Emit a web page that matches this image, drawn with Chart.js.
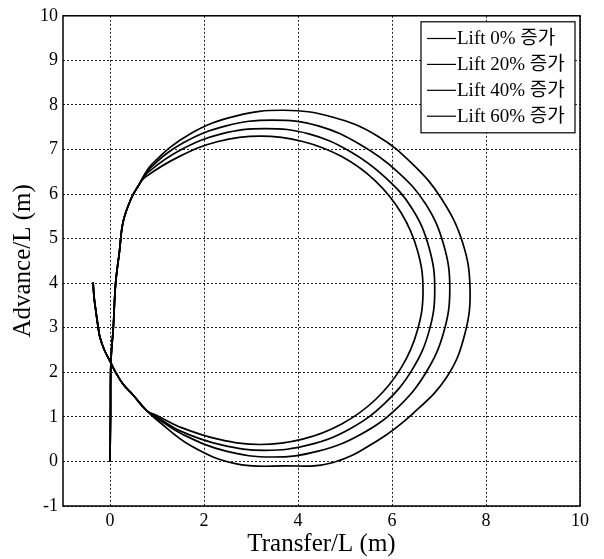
<!DOCTYPE html>
<html><head><meta charset="utf-8">
<script src="https://cdn.jsdelivr.net/npm/chart.js@4.4.1/dist/chart.umd.min.js"></script>
<style>html,body{margin:0;padding:0;background:#fff;}#wrap{width:604px;height:559px;position:relative;}</style>
</head><body><div id="wrap"><canvas id="c" width="604" height="559"></canvas></div>
<script>
const seriesLabels = ['Lift 0% 증가','Lift 20% 증가','Lift 40% 증가','Lift 60% 증가'];
const xTicks = [0,2,4,6,8,10];
const yTicks = [-1,0,1,2,3,4,5,6,7,8,9,10];

// common approach segment (before turning)
const leadX = [0,0.01,0.02,0.07,0.12,0.2,0.28,0.45,0.6];
const leadY = [0,1.0,2.25,3.0,4.0,4.7,5.38,5.9,6.18];
// common end segment
const tailX = [0.78,0.5,0.28,0.12,0.0,-0.12,-0.21,-0.25,-0.3,-0.34,-0.36];
const tailY = [1.14,1.48,1.73,2.0,2.25,2.5,2.77,3.0,3.37,3.7,4.02];

const lift0X = [0.9,1.72,2.67,3.7,4.73,5.68,6.45,7.05,7.5,7.66,7.55,7.17,6.45,5.68,4.73,3.7,2.67,1.72,1.0];
const lift0Y = [6.68,7.36,7.75,7.88,7.73,7.31,6.66,5.9,4.92,3.89,2.86,1.9,1.08,0.46,-0.03,-0.1,-0.05,0.35,0.93];

const lift20X = [0.85,1.56,2.47,3.45,4.43,5.34,6.12,6.72,7.1,7.23,7.1,6.72,6.12,5.34,4.43,3.45,2.47,1.56,1.0];
const lift20Y = [6.58,7.15,7.53,7.66,7.53,7.1,6.5,5.77,4.86,3.88,2.9,1.99,1.21,0.61,0.23,0.1,0.23,0.6,0.97];

const lift40X = [0.8,1.5,2.37,3.3,4.23,5.1,5.85,6.43,6.79,6.91,6.79,6.43,5.85,5.1,4.23,3.3,2.37,1.5,1.0];
const lift40Y = [6.48,6.99,7.35,7.47,7.35,6.96,6.38,5.67,4.79,3.86,2.93,2.06,1.31,0.73,0.37,0.25,0.37,0.68,1.0];

const lift60X = [0.75,1.47,2.3,3.2,4.1,4.93,5.65,6.2,6.54,6.66,6.54,6.2,5.65,4.93,4.1,3.2,2.3,1.47,1.0];
const lift60Y = [6.38,6.84,7.18,7.3,7.18,6.84,6.29,5.57,4.74,3.84,2.94,2.11,1.39,0.84,0.5,0.38,0.5,0.78,1.03];

function toPts(xs, ys){ return xs.map((x,i)=>({x:x, y:ys[i]})); }
function fullPath(bx, by){
  return toPts(leadX.concat(bx, tailX), leadY.concat(by, tailY));
}
const bodies = [[lift0X,lift0Y],[lift20X,lift20Y],[lift40X,lift40Y],[lift60X,lift60Y]];

const serif = "'Liberation Serif','Times New Roman',serif";

const frameLegend = {
  id:'frameLegend',
  afterDraw(chart){
    const {ctx, chartArea:a} = chart;
    ctx.save();
    ctx.strokeStyle = '#000';
    ctx.lineWidth = 1.5;
    ctx.strokeRect(a.left, a.top, a.right-a.left, a.bottom-a.top);
    const lx = a.right - 159, ly = a.top + 6, lw = 154, lh = 111;
    ctx.fillStyle = '#fff';
    ctx.fillRect(lx, ly, lw, lh);
    ctx.lineWidth = 1.2;
    ctx.strokeRect(lx, ly, lw, lh);
    ctx.font = "19px 'Liberation Serif','Noto Sans CJK KR',serif";
    ctx.textBaseline = 'middle';
    ctx.fillStyle = '#000';
    chart.data.datasets.forEach((ds, i) => {
      const cy = ly + 16.7 + i*25.9;
      ctx.beginPath();
      ctx.moveTo(lx + 6, cy);
      ctx.lineTo(lx + 35, cy);
      ctx.stroke();
      ctx.fillText(ds.label, lx + 36, cy + 1);
    });
    ctx.restore();
  }
};

new Chart(document.getElementById('c'), {
  type: 'scatter',
  data: {
    datasets: seriesLabels.map((lab, i) => ({
      label: lab,
      data: fullPath(bodies[i][0], bodies[i][1]),
      showLine: true,
      borderColor: '#000',
      borderWidth: 1.7,
      pointRadius: 0,
      tension: 0.4,
      fill: false
    }))
  },
  options: {
    responsive: false,
    animation: false,
    layout: { padding: { top: 13, right: 24, bottom: 0, left: 0 } },
    plugins: { legend: { display: false }, tooltip: { enabled: false } },
    scales: {
      x: {
        type: 'linear', min: -1, max: 10,
        afterBuildTicks: ax => { ax.ticks = xTicks.map(v => ({value: v})); },
        afterFit: ax => { ax.height = 53; },
        grid: { color: '#222', lineWidth: 1, drawTicks: false },
        border: { display: false, dash: [2, 2] },
        ticks: { color: '#000', font: { family: serif, size: 18 }, padding: 4, maxRotation: 0 },
        title: { display: true, text: 'Transfer/L (m)', color: '#000', font: { family: serif, size: 25 }, padding: { top: 0, bottom: 0 } }
      },
      y: {
        type: 'linear', min: -1, max: 10,
        afterBuildTicks: ax => { ax.ticks = yTicks.map(v => ({value: v})); },
        afterFit: ax => { ax.width = 63; },
        grid: { color: '#222', lineWidth: 1, drawTicks: false },
        border: { display: false, dash: [2, 2] },
        ticks: { color: '#000', font: { family: serif, size: 18 }, padding: 5 },
        title: { display: true, text: 'Advance/L (m)', color: '#000', font: { family: serif, size: 25 }, padding: { top: 8, bottom: 0 } }
      }
    }
  },
  plugins: [frameLegend]
});
</script></body></html>
